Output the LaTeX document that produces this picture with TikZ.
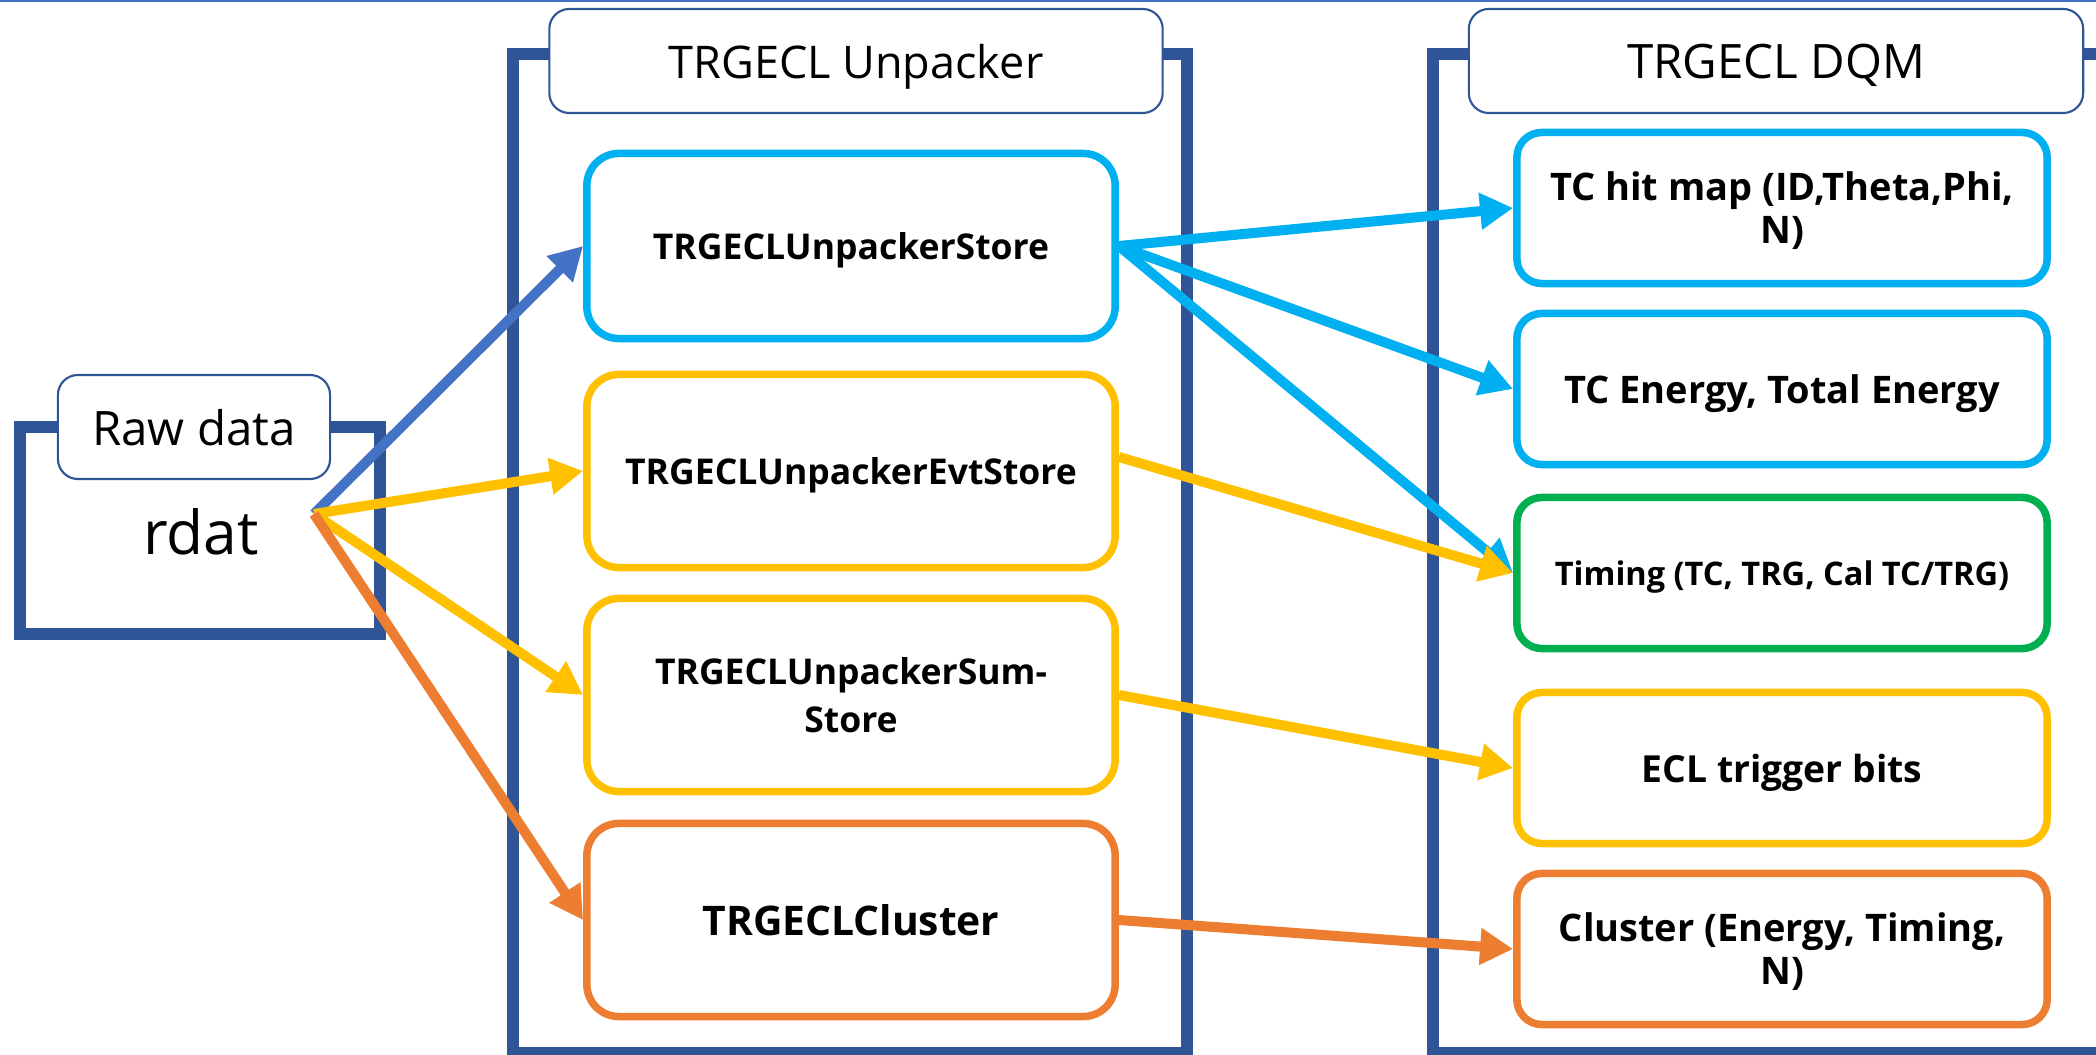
\documentclass[tikz,border=0pt]{standalone}
\usepackage{fontspec}
\setmainfont{Open Sans}
\usetikzlibrary{arrows.meta}

\definecolor{customframe}{HTML}{2F5597}
\definecolor{customblue}{HTML}{4472C4}
\definecolor{customcyan}{HTML}{00B0F0}
\definecolor{customyellow}{HTML}{FFC000}
\definecolor{customorange}{HTML}{ED7D31}
\definecolor{customgreen}{HTML}{00B050}

\begin{document}
\begin{tikzpicture}[x=0.01cm,y=-0.01cm]
  % Estilos para marcos, etiquetas y cajas
  \tikzset{
    frame_line/.style={draw=customframe,line width=1.2mm},
    title_node/.style={rectangle,rounded corners=2mm,draw=customframe,line width=0.6pt,fill=white,minimum height=1.04cm,text depth=0pt,font=\fontsize{13.5}{16}\selectfont},
    mid_node/.style={rectangle,rounded corners=3.2mm,line width=0.75mm,fill=white,minimum width=5.28cm,minimum height=1.93cm,align=center,text depth=0pt,font=\bfseries\fontsize{10.1}{13.5}\selectfont},
    dqm_node/.style={rectangle,rounded corners=2.5mm,line width=0.75mm,fill=white,minimum width=5.3cm,minimum height=1.51cm,align=center,text depth=0pt,font=\bfseries\fontsize{10.8}{12.2}\selectfont},
    flow/.style={line width=1mm,-{Triangle[length=3.3mm,width=3.5mm]}}
  }

  \useasboundingbox (0,0) rectangle (2096,1055);
  \clip (0,0) rectangle (2096,1055);

  % Linea superior
  \draw[customblue,line width=0.25mm] (0,1) -- (2096,1);

  % Marcos (el de la derecha sale de la imagen)
  \draw[frame_line] (20,427) rectangle (380,634);
  \draw[frame_line] (513,54) rectangle (1187,1053);
  \draw[frame_line] (1433,54) rectangle (2150,1053);

  % Etiquetas de los marcos
  \node[title_node,minimum width=2.72cm] (rawlbl) at (194,427) {Raw data};
  \node[title_node,minimum width=6.13cm,font=\fontsize{12.8}{16}\selectfont] (unplbl) at (856,61) {TRGECL Unpacker};
  \node[title_node,minimum width=6.14cm] (dqmlbl) at (1776,61) {TRGECL DQM};
  \node[font=\fontsize{17.2}{21}\selectfont] (rdat) at (201,532) {rdat};
  \coordinate (src) at (314,514);

  % Cajas del unpacker
  \node[mid_node,draw=customcyan,minimum height=1.85cm] (store) at (851,246) {TRGECLUnpackerStore};
  \node[mid_node,draw=customyellow] (evt) at (851,471) {TRGECLUnpackerEvtStore};
  \node[mid_node,draw=customyellow] (sum) at (851,695) {TRGECLUnpackerSum-\\Store};
  \node[mid_node,draw=customorange,font=\bfseries\fontsize{11.6}{15}\selectfont] (clus) at (851,920) {TRGECLCluster};

  % Cajas del DQM
  \node[dqm_node,draw=customcyan] (hitmap) at (1782,208) {TC hit map (ID,Theta,Phi,\\N)};
  \node[dqm_node,draw=customcyan] (energy) at (1782,389) {TC Energy, Total Energy};
  \node[dqm_node,draw=customgreen,font=\bfseries\fontsize{9.25}{12}\selectfont] (timing) at (1782,573) {Timing (TC, TRG, Cal TC/TRG)};
  \node[dqm_node,draw=customyellow,font=\bfseries\fontsize{10.6}{13}\selectfont] (bits) at (1782,768) {ECL trigger bits};
  \node[dqm_node,draw=customorange] (clmap) at (1782,949) {Cluster (Energy, Timing,\\N)};

  % Flechas
  \foreach \from/\to/\col in {src/store.west/customblue,src/evt.west/customyellow,src/sum.west/customyellow,src/clus.west/customorange,
      store.east/hitmap.west/customcyan,store.east/energy.west/customcyan,store.east/timing.west/customcyan,
      sum.east/bits.west/customyellow,clus.east/clmap.west/customorange}
    \draw[flow,\col] (\from) -- (\to);
  \draw[flow,customyellow] ([yshift=1.4mm]evt.east) -- (timing.west);
\end{tikzpicture}
\end{document}
